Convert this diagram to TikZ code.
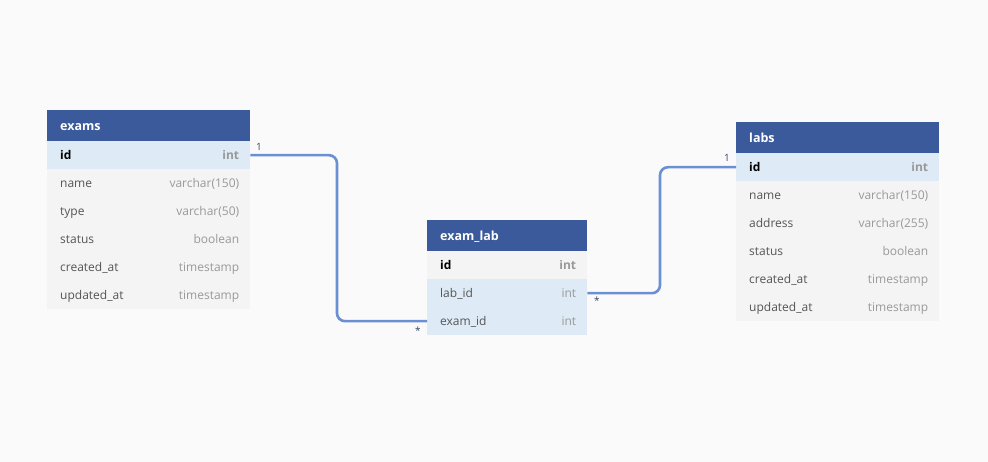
\documentclass[tikz,border=0pt]{standalone}
\usepackage{fontspec}
\setmainfont{Open Sans}
\definecolor{bg}{HTML}{FAFAFA}
\definecolor{hdr}{HTML}{3A5A9B}
\definecolor{rowbg}{HTML}{F4F4F4}
\definecolor{hl}{HTML}{DEEAF5}
\definecolor{fname}{HTML}{555555}
\definecolor{ftype}{HTML}{999999}
\definecolor{link}{HTML}{6A8FD3}
\definecolor{lbl}{HTML}{3C4660}
\tikzset{
  hdrbox/.style={rectangle, fill=hdr, anchor=north west, inner sep=0pt, minimum height=31pt},
  hdrtxt/.style={anchor=west, inner sep=0pt, text=white, font=\fontsize{12.5}{14}\selectfont\bfseries, text height=11pt, text depth=1pt},
  rowbox/.style={rectangle, anchor=north west, inner sep=0pt, minimum height=28pt},
  fieldtxt/.style={anchor=west, inner sep=0pt, text=fname, font=\fontsize{12}{14}\selectfont, text height=10.5pt, text depth=1.5pt},
  typetxt/.style={anchor=east, inner sep=0pt, text=ftype, font=\fontsize{12}{14}\selectfont, text height=10.5pt, text depth=1.5pt},
  keyfield/.style={text=black, font=\fontsize{12}{14}\selectfont\bfseries},
  keytype/.style={font=\fontsize{12}{14}\selectfont\bfseries},
  linkline/.style={draw=link, line width=2.6pt, rounded corners=8pt},
  cardtxt/.style={inner sep=0pt, text=lbl, font=\fontsize{10}{11}\selectfont}
}
% #1 name, #2 x, #3 y, #4 width, #5 fill, #6 field, #7 type, #8 extra field style, #9 extra type style
\newcommand\erow[9]{%
  \node[rowbox, fill=#5, minimum width=#4] (#1) at (#2,#3) {};
  \node[fieldtxt, #8] (#1-f) at ([xshift=13pt]#1.west) {#6};
  \node[typetxt, #9] (#1-t) at ([xshift=-11pt]#1.east) {#7};
}
\newcommand\ehead[5]{% #1 name, #2 x, #3 y, #4 width, #5 title
  \node[hdrbox, minimum width=#4] (#1) at (#2,#3) {};
  \node[hdrtxt] (#1-t) at ([xshift=13pt]#1.west) {#5};
}
\begin{document}
\begin{tikzpicture}[x=1pt,y=-1pt]
\fill[bg] (0,0) rectangle (988,462);
\useasboundingbox (0,0) rectangle (988,462);

% exams
\ehead{ex}{47}{110}{203pt}{exams}
\erow{ex-id}{47}{141}{203pt}{hl}{id}{int}{keyfield}{keytype}
\erow{ex-name}{47}{169}{203pt}{rowbg}{name}{varchar(150)}{}{}
\erow{ex-type}{47}{197}{203pt}{rowbg}{type}{varchar(50)}{}{}
\erow{ex-status}{47}{225}{203pt}{rowbg}{status}{boolean}{}{}
\erow{ex-created}{47}{253}{203pt}{rowbg}{created\_at}{timestamp}{}{}
\erow{ex-updated}{47}{281}{203pt}{rowbg}{updated\_at}{timestamp}{}{}

% exam_lab
\ehead{el}{427}{220}{160pt}{exam\_lab}
\erow{el-id}{427}{251}{160pt}{rowbg}{id}{int}{keyfield}{keytype}
\erow{el-lab}{427}{279}{160pt}{hl}{lab\_id}{int}{}{}
\erow{el-exam}{427}{307}{160pt}{hl}{exam\_id}{int}{}{}

% labs
\ehead{lb}{736}{122}{203pt}{labs}
\erow{lb-id}{736}{153}{203pt}{hl}{id}{int}{keyfield}{keytype}
\erow{lb-name}{736}{181}{203pt}{rowbg}{name}{varchar(150)}{}{}
\erow{lb-address}{736}{209}{203pt}{rowbg}{address}{varchar(255)}{}{}
\erow{lb-status}{736}{237}{203pt}{rowbg}{status}{boolean}{}{}
\erow{lb-created}{736}{265}{203pt}{rowbg}{created\_at}{timestamp}{}{}
\erow{lb-updated}{736}{293}{203pt}{rowbg}{updated\_at}{timestamp}{}{}

% connectors
\coordinate (m1) at (337,238);
\coordinate (m2) at (660,230);
\draw[linkline] (ex-id.east) -| (m1) |- (el-exam.west);
\draw[linkline] (el-lab.east) -| (m2) |- (lb-id.west);

% cardinalities
\node[cardtxt] (c1) at (259,147) {1};
\node[cardtxt] (c2) at (418,331) {*};
\node[cardtxt] (c3) at (597,301) {*};
\node[cardtxt] (c4) at (727,158) {1};
\end{tikzpicture}
\end{document}
